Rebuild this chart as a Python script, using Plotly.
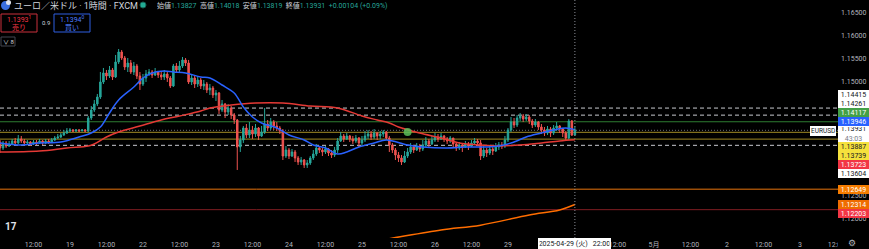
import plotly.graph_objects as go
import pandas as pd

# ---------------- data ----------------
first_open = 1.13676
close = [1.13546,1.13655,1.13589,1.13633,1.13698,1.13655,1.13742,1.13698,1.13655,1.13676,
         1.13633,1.13676,1.13655,1.13698,1.13655,1.13698,1.13676,1.13720,1.13763,1.13785,
         1.13829,1.13872,1.13916,1.13938,1.13916,1.13938,1.13916,1.13938,1.13916,1.14199,
         1.14373,1.14504,1.14656,1.14983,1.15179,1.15113,1.15244,1.15092,1.15419,1.15636,
         1.15505,1.15309,1.15396,1.15200,1.15331,1.15113,1.14939,1.15070,1.15157,1.15200,
         1.15135,1.15200,1.15135,1.15092,1.15157,1.15070,1.14896,1.15331,1.15244,1.15331,
         1.15462,1.15396,1.14983,1.15070,1.14939,1.15026,1.14896,1.14939,1.14809,1.14852,
         1.14700,1.14743,1.14373,1.14504,1.14330,1.14417,1.14264,1.14155,1.13568,1.13720,
         1.13981,1.13829,1.13938,1.13850,1.13981,1.13807,1.13894,1.14068,1.13981,1.14112,
         1.14025,1.13981,1.13916,1.13371,1.13502,1.13371,1.13459,1.13328,1.13241,1.13284,
         1.13176,1.13219,1.13328,1.13415,1.13546,1.13502,1.13459,1.13524,1.13437,1.13393,
         1.13502,1.13698,1.13807,1.13742,1.13807,1.13742,1.13698,1.13763,1.13655,1.13720,
         1.13807,1.13850,1.13785,1.13872,1.13807,1.13850,1.13894,1.13763,1.13611,1.13502,
         1.13393,1.13328,1.13241,1.13371,1.13459,1.13568,1.13502,1.13589,1.13524,1.13611,
         1.13698,1.13633,1.13720,1.13785,1.13742,1.13807,1.13742,1.13698,1.13763,1.13633,
         1.13546,1.13611,1.13568,1.13633,1.13589,1.13655,1.13698,1.13655,1.13371,1.13502,
         1.13437,1.13524,1.13480,1.13568,1.13611,1.13589,1.13720,1.13938,1.14112,1.14046,
         1.14199,1.14242,1.14177,1.14221,1.14134,1.14046,1.14112,1.14003,1.13938,1.13872,
         1.13959,1.13872,1.13981,1.14025,1.13959,1.13872,1.13763,1.14134,1.13827,1.13931]
high = [1.13720,1.13698,1.13698,1.13698,1.13742,1.13763,1.13829,1.13807,1.13742,1.13720,
        1.13698,1.13720,1.13720,1.13742,1.13720,1.13742,1.13742,1.13763,1.13807,1.13850,
        1.13872,1.13938,1.13981,1.13981,1.13959,1.13959,1.13959,1.13959,1.13959,1.14242,
        1.14460,1.14591,1.14722,1.15200,1.15288,1.15244,1.15331,1.15288,1.15571,1.15701,
        1.15679,1.15549,1.15505,1.15462,1.15419,1.15375,1.15200,1.15157,1.15244,1.15266,
        1.15244,1.15288,1.15222,1.15200,1.15244,1.15200,1.15113,1.15375,1.15396,1.15440,
        1.15527,1.15505,1.15462,1.15157,1.15113,1.15113,1.15070,1.15026,1.14983,1.14939,
        1.14896,1.14809,1.14765,1.14591,1.14526,1.14504,1.14460,1.14308,1.14177,1.13807,
        1.14025,1.14068,1.14112,1.14025,1.14068,1.14003,1.14025,1.14417,1.14155,1.14199,
        1.14155,1.14112,1.14025,1.13959,1.13589,1.13546,1.13524,1.13502,1.13371,1.13350,
        1.13306,1.13284,1.13371,1.13502,1.13633,1.13589,1.13546,1.13589,1.13546,1.13502,
        1.13568,1.13763,1.13894,1.13850,1.13872,1.13829,1.13807,1.13829,1.13785,1.13807,
        1.13916,1.13938,1.13916,1.13959,1.13894,1.13916,1.13938,1.13916,1.13807,1.13655,
        1.13546,1.13459,1.13393,1.13480,1.13546,1.13655,1.13611,1.13655,1.13633,1.13720,
        1.13785,1.13742,1.13807,1.13872,1.13850,1.13872,1.13829,1.13785,1.13807,1.13720,
        1.13676,1.13676,1.13655,1.13698,1.13676,1.13720,1.13763,1.13742,1.13720,1.13589,
        1.13546,1.13589,1.13568,1.13655,1.13676,1.13676,1.13807,1.13981,1.14221,1.14199,
        1.14264,1.14308,1.14286,1.14286,1.14264,1.14177,1.14177,1.14134,1.14068,1.14003,
        1.14025,1.14003,1.14046,1.14112,1.14046,1.13981,1.13916,1.14177,1.14155,1.14018]
low = [1.13437,1.13502,1.13546,1.13568,1.13611,1.13611,1.13633,1.13655,1.13611,1.13611,
       1.13589,1.13611,1.13611,1.13633,1.13611,1.13633,1.13633,1.13655,1.13698,1.13742,
       1.13763,1.13807,1.13850,1.13894,1.13894,1.13894,1.13894,1.13916,1.13894,1.13894,
       1.14155,1.14330,1.14460,1.14613,1.14939,1.15026,1.15070,1.15026,1.15070,1.15375,
       1.15462,1.15244,1.15200,1.15157,1.15135,1.15048,1.14809,1.14896,1.14983,1.15113,
       1.15070,1.15113,1.15070,1.15026,1.15026,1.14983,1.14852,1.14874,1.15179,1.15200,
       1.15288,1.15331,1.14939,1.14917,1.14852,1.14874,1.14830,1.14809,1.14743,1.14700,
       1.14634,1.14569,1.14286,1.14330,1.14199,1.14264,1.14177,1.14068,1.13067,1.13459,
       1.13655,1.13763,1.13763,1.13742,1.13785,1.13720,1.13785,1.13850,1.13916,1.13938,
       1.13938,1.13916,1.13850,1.13284,1.13328,1.13306,1.13350,1.13241,1.13176,1.13176,
       1.13111,1.13111,1.13176,1.13284,1.13371,1.13437,1.13371,1.13415,1.13371,1.13328,
       1.13350,1.13437,1.13676,1.13676,1.13720,1.13676,1.13633,1.13655,1.13568,1.13589,
       1.13676,1.13742,1.13720,1.13742,1.13720,1.13742,1.13785,1.13720,1.13459,1.13437,
       1.13284,1.13241,1.13176,1.13219,1.13328,1.13415,1.13437,1.13480,1.13459,1.13480,
       1.13568,1.13546,1.13611,1.13676,1.13676,1.13720,1.13676,1.13633,1.13655,1.13546,
       1.13480,1.13502,1.13459,1.13546,1.13502,1.13568,1.13611,1.13589,1.13284,1.13328,
       1.13350,1.13393,1.13393,1.13459,1.13502,1.13524,1.13546,1.13676,1.13894,1.13981,
       1.14003,1.14134,1.14112,1.14134,1.14068,1.13981,1.14003,1.13938,1.13850,1.13807,
       1.13829,1.13785,1.13829,1.13916,1.13872,1.13785,1.13698,1.13720,1.13807,1.13819]

# moving averages read at sample bars (bar numbers) - prices
blue_ma_bar = [0,7,13,20,26,30,33,36,39,44,47,50,54,57,61,66,69,73,77,80,83,86,91,95,100,103,
               107,111,114,118,123,127,134,139,147,153,160,164,169,173,178,182,186,189]
blue_ma_val = [1.13655,1.13611,1.13655,1.13676,1.13785,1.13872,1.14003,1.14308,1.14591,1.14874,
               1.15070,1.15179,1.15222,1.15200,1.15179,1.15092,1.15070,1.14917,1.14743,1.14438,
               1.14221,1.14090,1.13981,1.13829,1.13720,1.13611,1.13546,1.13415,1.13459,1.13568,
               1.13655,1.13720,1.13611,1.13568,1.13546,1.13568,1.13568,1.13589,1.13676,1.13785,
               1.13872,1.13938,1.13981,1.13946]
red_ma_bar = [0,13,22,29,31,35,39,46,53,59,66,69,76,84,93,102,111,119,124,128,131,138,145,151,
              158,164,171,178,184,189]
red_ma_val = [1.13459,1.13480,1.13546,1.13589,1.13633,1.13785,1.13894,1.14025,1.14155,1.14242,
              1.14351,1.14417,1.14482,1.14526,1.14526,1.14460,1.14417,1.14242,1.14155,1.14090,
              1.14003,1.13872,1.13763,1.13655,1.13611,1.13589,1.13611,1.13655,1.13698,1.13723]
orange_ma_bar = [124,128,145,158,174,184,189]
orange_ma_val = [1.11530,1.11571,1.11761,1.11866,1.12087,1.12196,1.12314]

alert_bar = [134]
alert_val = [1.13894]

# horizontal levels
level_vals = [1.14415, 1.14261, 1.14117, 1.13931, 1.13887, 1.13739, 1.13604, 1.12649, 1.12203]
level_cols = ["#c8cad0", "#c8cad0", "#2e7d32", "#6b6e78", "#a08a24", "#a08a24", "#c8cad0", "#e8740c", "#7f1d22"]
level_dash = ["4px,3px", "4px,3px", "solid", "1px,2px", "solid", "solid", "4px,3px", "solid", "solid"]

# price-scale labels
plabel_vals = [1.14415, 1.14261, 1.14117, 1.13946, 1.13931, 1.13887, 1.13739, 1.13723, 1.13604, 1.12649, 1.12314, 1.12203]
plabel_bg = ["#ffffff", "#ffffff", "#43a047", "#2962ff", "#ffffff", "#f5e13c", "#f5e13c", "#f23645", "#ffffff", "#f57c00", "#ef6c00", "#f23645"]
plabel_fg = ["#131722", "#131722", "#ffffff", "#ffffff", "#131722", "#131722", "#131722", "#ffffff", "#131722", "#ffffff", "#ffffff", "#ffffff"]
current_price = 1.13931
countdown = "43:03"

ytick_vals = [1.12, 1.125, 1.15, 1.155, 1.16, 1.165]

tick_times = ["2025-04-18 12:00", "2025-04-19 00:00", "2025-04-21 12:00", "2025-04-22 00:00",
              "2025-04-22 12:00", "2025-04-23 00:00", "2025-04-23 12:00", "2025-04-24 00:00",
              "2025-04-24 12:00", "2025-04-25 00:00", "2025-04-25 12:00", "2025-04-26 00:00",
              "2025-04-28 12:00", "2025-04-29 00:00",
              "2025-04-30 12:00", "2025-05-01 00:00", "2025-05-01 12:00", "2025-05-02 00:00",
              "2025-05-02 12:00", "2025-05-03 00:00", "2025-05-05 12:00"]
tick_text = ["12:00", "19", "12:00", "22", "12:00", "23", "12:00", "24", "12:00", "25", "12:00", "26",
             "12:00", "29", "12:00", "5月", "12:00", "2", "12:00", "3", "12:00"]
cross_time = "2025-04-29 22:00"
cross_text = "2025-04-29 (火)   22:00"

# ---------------- trading-hour calendar (weekend gap removed) ----------------
hours = pd.date_range("2025-04-18 01:00", "2025-05-06 00:00", freq="h")
def is_open(t):
    wd = t.weekday()
    if wd == 6:
        return False
    if wd == 5 and t.hour >= 6:
        return False
    if wd == 0 and t.hour < 6:
        return False
    return True
trading = [t for t in hours if is_open(t)]
pos = {t: i for i, t in enumerate(trading)}
xs = list(range(len(close)))
opens = [first_open] + close[:-1]
tick_pos = [pos[pd.Timestamp(s)] for s in tick_times]
cross_pos = pos[pd.Timestamp(cross_time)]

# ---------------- figure ----------------
W, H = 869, 249
ML, MR, MT, MB = 0, 31, 0, 11
PW, PH = W - ML - MR, H - MT - MB
Y_TOP, Y_BOT = 1.16768, 1.11586
X_RANGE = [0, 275.5]
FONT = "Roboto, 'Noto Sans CJK JP', sans-serif"
GRAY = "#b2b5be"

fig = go.Figure()
fig.add_trace(go.Candlestick(
    x=xs, open=opens, high=high, low=low, close=close,
    increasing=dict(line=dict(color="#26a69a", width=1), fillcolor="#26a69a"),
    decreasing=dict(line=dict(color="#ef5350", width=1), fillcolor="#ef5350"),
    whiskerwidth=0, hoverinfo="skip"))
fig.add_trace(go.Scatter(x=red_ma_bar, y=red_ma_val, mode="lines",
                         line=dict(color="#e53935", width=1.5, shape="spline", smoothing=1)))
fig.add_trace(go.Scatter(x=blue_ma_bar, y=blue_ma_val, mode="lines",
                         line=dict(color="#2962ff", width=1.5, shape="spline", smoothing=1)))
fig.add_trace(go.Scatter(x=orange_ma_bar, y=orange_ma_val, mode="lines",
                         line=dict(color="#ff6d00", width=1.5, shape="spline", smoothing=1)))
fig.add_trace(go.Scatter(x=alert_bar, y=alert_val, mode="markers",
                         marker=dict(size=8, color="rgba(90,190,90,0.85)", line=dict(width=0))))

shapes = []
for v, c, d in zip(level_vals, level_cols, level_dash):
    shapes.append(dict(type="line", xref="paper", x0=0, x1=1, yref="y", y0=v, y1=v,
                       line=dict(color=c, width=1, dash=d), layer="below"))
# crosshair
shapes.append(dict(type="line", xref="x", x0=cross_pos, x1=cross_pos, yref="paper", y0=0, y1=1,
                   line=dict(color="#8a8d96", width=1, dash="1px,2px"), layer="above"))

def px_x(p):
    return (p - ML) / PW
def px_y(p):
    return 1 - (p - MT) / PH
def price_px(v):
    return (Y_TOP - v) / (Y_TOP - Y_BOT) * PH

# cover for axis area right of plot
shapes.append(dict(type="rect", xref="paper", yref="paper", x0=1, x1=px_x(W), y0=0, y1=px_y(H),
                   fillcolor="#000000", line=dict(width=0), layer="above"))
# header icon
shapes.append(dict(type="circle", xref="paper", yref="paper", x0=px_x(1), x1=px_x(10), y0=px_y(10), y1=px_y(1),
                   fillcolor="#3a6fe0", line=dict(width=0), layer="above"))
shapes.append(dict(type="circle", xref="paper", yref="paper", x0=px_x(6), x1=px_x(11), y0=px_y(5), y1=px_y(0),
                   fillcolor="#e0e3eb", line=dict(width=0), layer="above"))
shapes.append(dict(type="circle", xref="paper", yref="paper", x0=px_x(140), x1=px_x(146), y0=px_y(8), y1=px_y(2),
                   fillcolor="#22ab94", line=dict(color="#155e50", width=1), layer="above"))
# buy / sell buttons
shapes.append(dict(type="rect", xref="paper", yref="paper", x0=px_x(1), x1=px_x(37), y0=px_y(32), y1=px_y(14),
                   fillcolor="#000000", line=dict(color="#c9303d", width=1), layer="above"))
shapes.append(dict(type="rect", xref="paper", yref="paper", x0=px_x(54), x1=px_x(90), y0=px_y(32), y1=px_y(14),
                   fillcolor="#000000", line=dict(color="#2e5ee0", width=1), layer="above"))
shapes.append(dict(type="rect", xref="paper", yref="paper", x0=px_x(1), x1=px_x(15), y0=px_y(46), y1=px_y(37),
                   fillcolor="#000000", line=dict(color="#434651", width=1), layer="above"))

ann = []
def A(xp, yp, text, size=7, color="#d1d4dc", xanchor="left", yanchor="middle", **kw):
    ann.append(dict(xref="paper", yref="paper", x=px_x(xp), y=px_y(yp), text=text, showarrow=False,
                    font=dict(family=FONT, size=size, color=color), xanchor=xanchor, yanchor=yanchor, **kw))

A(12, 5.5, "ユーロ／米ドル · 1時間 · FXCM", size=9, color="#d1d4dc")
T = "#26a69a"
hdr = ("始値<span style='color:%s'>1.13827</span>  高値<span style='color:%s'>1.14018</span>  "
       "安値<span style='color:%s'>1.13819</span>  終値<span style='color:%s'>1.13931</span>  "
       "<span style='color:%s'>+0.00104 (+0.09%%)</span>") % (T, T, T, T, T)
A(155, 5.5, hdr, size=7, color="#d1d4dc")
A(19, 19, "1.1393<sup>1</sup>", size=7, color="#f23645", xanchor="center")
A(19, 27.5, "売り", size=7, color="#f23645", xanchor="center")
A(72, 19, "1.1394<sup>0</sup>", size=7, color="#4c7dff", xanchor="center")
A(72, 27.5, "買い", size=7, color="#4c7dff", xanchor="center")
A(45.5, 23, "0.9", size=6, color="#d1d4dc", xanchor="center")
A(8, 41.5, "∨ 8", size=6, color="#d1d4dc", xanchor="center")
A(11, 226.5, "<b>17</b>", size=10, color="#e0e3eb", xanchor="center")
A(852, 243.5, "⚙", size=9, color="#b2b5be", xanchor="center")

# price-scale labels with stacking to avoid overlaps
LH = 9.0
cur_y = price_px(current_price)
anchor_top, anchor_bot = cur_y - 4.5, cur_y + 11.5
items = sorted([(price_px(v), v, bg, fg) for v, bg, fg in zip(plabel_vals, plabel_bg, plabel_fg)
                if v != current_price], key=lambda t: t[0])
above = [it for it in items if it[0] <= cur_y][::-1]
below = [it for it in items if it[0] > cur_y]
placed = []
edge = anchor_top
for y, v, bg, fg in above:
    c = min(y, edge - LH / 2)
    edge = c - LH / 2
    placed.append((c, v, bg, fg))
edge = anchor_bot
for y, v, bg, fg in below:
    c = max(y, edge + LH / 2)
    edge = c + LH / 2
    placed.append((c, v, bg, fg))
for c, v, bg, fg in placed:
    ann.append(dict(xref="paper", yref="paper", x=1, y=px_y(c), xanchor="left", yanchor="middle",
                    text="%.5f" % v, showarrow=False, bgcolor=bg, borderpad=1, borderwidth=0,
                    width=29, height=7, align="center",
                    font=dict(family=FONT, size=7, color=fg)))
# current price label (two lines)
ann.append(dict(xref="paper", yref="paper", x=1, y=px_y(anchor_top), xanchor="left", yanchor="top",
                text="%.5f<br><span style='color:#787b86'>%s</span>" % (current_price, countdown),
                showarrow=False, bgcolor="#ffffff", borderpad=1, borderwidth=0, width=29, height=14,
                align="center", valign="middle", font=dict(family=FONT, size=7, color="#131722")))
# symbol label
ann.append(dict(xref="paper", yref="paper", x=px_x(836), y=px_y(cur_y + 0.5), xanchor="right", yanchor="middle",
                text="EURUSD", showarrow=False, bgcolor="#ffffff", borderpad=1, borderwidth=0,
                font=dict(family=FONT, size=6.5, color="#131722")))
# crosshair time label
ann.append(dict(xref="x", yref="paper", x=cross_pos, y=0, xanchor="center", yanchor="top",
                text=cross_text, showarrow=False, bgcolor="#ffffff", borderpad=1.5, borderwidth=0,
                width=70, height=8, font=dict(family=FONT, size=7, color="#131722")))

fig.update_layout(
    width=W, height=H, margin=dict(l=ML, r=MR, t=MT, b=MB),
    paper_bgcolor="#000000", plot_bgcolor="#000000",
    showlegend=False, hovermode=False,
    shapes=shapes, annotations=ann,
    xaxis=dict(range=X_RANGE, rangeslider=dict(visible=False), showgrid=False, zeroline=False,
               tickmode="array", tickvals=tick_pos, ticktext=tick_text, ticks="", showline=False,
               tickfont=dict(family=FONT, size=7, color=GRAY), ticklabelstandoff=1),
    yaxis=dict(range=[Y_BOT, Y_TOP], side="right", showgrid=False, zeroline=False,
               tickmode="array", tickvals=ytick_vals, ticktext=["%.5f" % v for v in ytick_vals],
               ticks="", showline=False, tickfont=dict(family=FONT, size=7, color=GRAY),
               ticklabelstandoff=2),
)
fig.write_html("out.html")
